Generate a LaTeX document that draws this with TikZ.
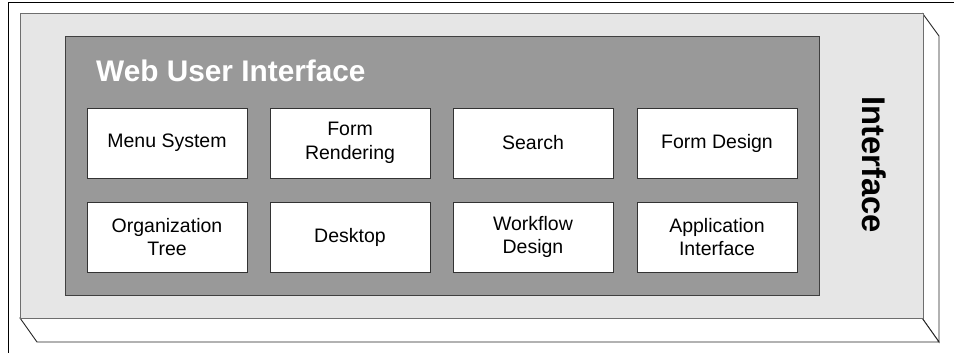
\documentclass[tikz,border=0pt]{standalone}
\usepackage{fontspec}
\setmainfont{Liberation Sans}
\definecolor{facegray}{HTML}{E6E6E6}
\definecolor{panelgray}{HTML}{999999}
\definecolor{edgegray}{HTML}{6E6E6E}
\begin{document}
\begin{tikzpicture}[x=1pt,y=-1pt,
  modbox/.style={draw=black!80, fill=white, line width=0.9pt,
    minimum width=160pt, minimum height=70pt, inner sep=0pt,
    align=center, font=\fontsize{19.5}{23.5}\selectfont},
  sideface/.style={draw=black!85, fill=white, line width=0.9pt, line join=miter}]
\useasboundingbox (0,0) rectangle (954,353);

% page frame
\draw[line width=1pt] (954,3) -- (8,3) -- (8,353);

% 3D slab: side and bottom faces
\draw[sideface] (923,14) -- (939,36) -- (939,342) -- (922,318) -- cycle;
\draw[sideface] (20,318) -- (922,318) -- (939,342) -- (37,342) -- cycle;

% front face of the slab
\draw[draw=edgegray, fill=facegray, line width=1pt] (20,14) rectangle (923,318);

% inner panel
\draw[draw=black!75, fill=panelgray, line width=1pt] (65,37) rectangle (819,295);

\node[anchor=base west, inner sep=0pt, text=white,
  font=\fontsize{29.8}{34}\selectfont\bfseries] (title) at (96,82) {Web User Interface};

\node[anchor=base west, inner sep=0pt, rotate=-90,
  font=\fontsize{32.8}{36}\selectfont\bfseries] (side) at (862,96) {Interface};

% component boxes
\node[modbox] (menu)   at (167,143) {Menu System};
\node[modbox] (render) at (350,143) {Form\\Rendering};
\node[modbox] (search) at (533,143) {Search};
\node[modbox] (fdesign) at (717,143) {Form Design};
\node[modbox] (orgtree) at (167,237) {Organization\\Tree};
\node[modbox] (desk)   at (350,237) {Desktop};
\node[modbox] (wflow)  at (533,237) {Workflow\\Design};
\node[modbox] (appif)  at (717,237) {Application\\Interface};
\end{tikzpicture}
\end{document}
